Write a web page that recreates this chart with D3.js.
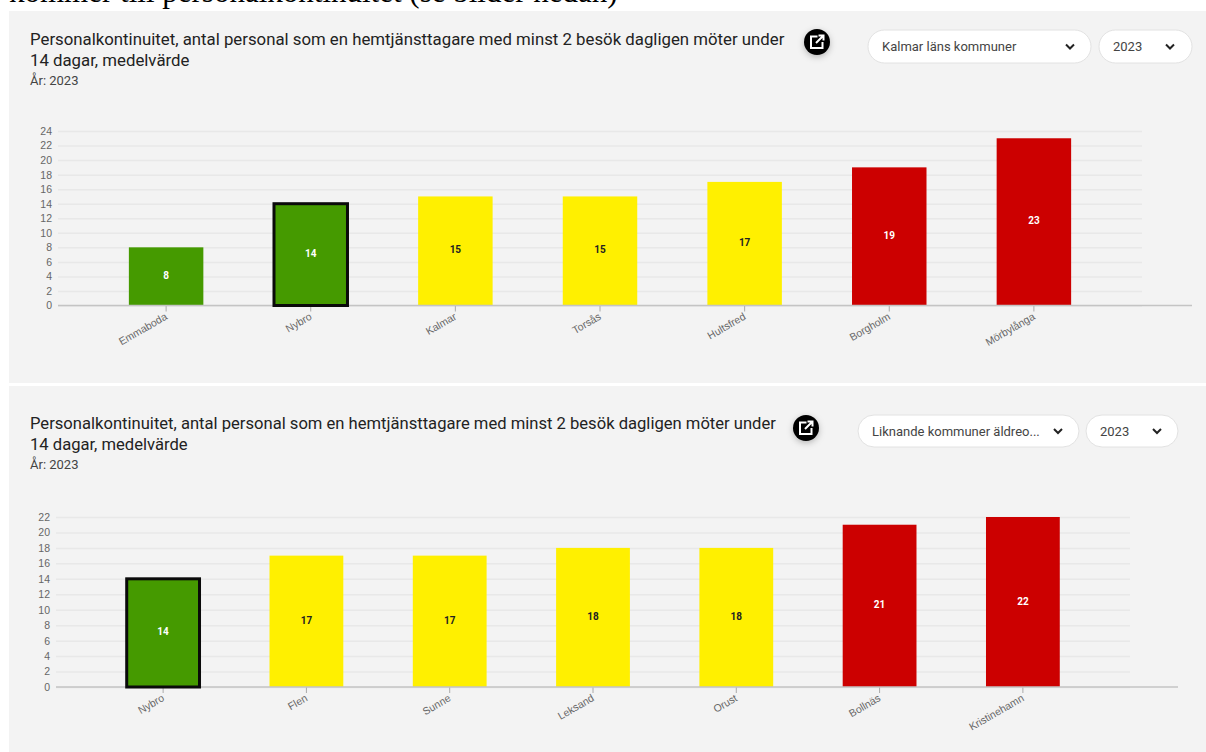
<!DOCTYPE html>
<html>
<head>
<meta charset="utf-8">
<script src="https://cdn.jsdelivr.net/npm/d3@7"></script>
<style>
  html, body { margin: 0; padding: 0; background: #fff; overflow: hidden; }
  text { font-family: Roboto, sans-serif; }
</style>
</head>
<body>
<script>
const WIDTH = 1206;
const HEIGHT = 752;

const GREEN = '#459a00';
const YELLOW = '#fff000';
const RED = '#cc0000';

const titleLines = [
  'Personalkontinuitet, antal personal som en hemtjänsttagare med minst 2 besök dagligen möter under',
  '14 dagar, medelvärde'
];

// Kalmar läns kommuner
const categories1 = ['Emmaboda', 'Nybro', 'Kalmar', 'Torsås', 'Hultsfred', 'Borgholm', 'Mörbylånga'];
const values1 = [8, 14, 15, 15, 17, 19, 23];
const colors1 = [GREEN, GREEN, YELLOW, YELLOW, YELLOW, RED, RED];
const ticks1 = [0, 2, 4, 6, 8, 10, 12, 14, 16, 18, 20, 22, 24];

// Liknande kommuner
const categories2 = ['Nybro', 'Flen', 'Sunne', 'Leksand', 'Orust', 'Bollnäs', 'Kristinehamn'];
const values2 = [14, 17, 17, 18, 18, 21, 22];
const colors2 = [GREEN, YELLOW, YELLOW, YELLOW, YELLOW, RED, RED];
const ticks2 = [0, 2, 4, 6, 8, 10, 12, 14, 16, 18, 20, 22];

const svg = d3.select('body').append('svg')
  .attr('width', WIDTH)
  .attr('height', HEIGHT)
  .style('display', 'block');

const defs = svg.append('defs');
defs.append('filter').attr('id', 'shadow')
  .attr('x', '-50%').attr('y', '-50%').attr('width', '200%').attr('height', '200%')
  .append('feDropShadow')
  .attr('dx', 0).attr('dy', 2).attr('stdDeviation', 3)
  .attr('flood-color', '#000').attr('flood-opacity', 0.25);

// rad fran texten ovanfor, avklippt i originalet
svg.append('text')
  .attr('x', 9)
  .attr('y', 2)
  .style('font-family', '"Liberation Serif", serif')
  .attr('font-size', 31)
  .attr('fill', '#000')
  .text('kommer till personalkontinuitet (se bilder nedan)');

function select(g, x, y, w, h, label, arrowX) {
  const s = g.append('g');
  s.append('rect')
    .attr('x', x).attr('y', y).attr('width', w).attr('height', h)
    .attr('rx', h / 2)
    .attr('fill', '#fff')
    .attr('stroke', '#e2e2e2');
  s.append('text')
    .attr('x', x + 14).attr('y', y + h / 2 + 4.5)
    .attr('font-size', 13)
    .attr('fill', '#444')
    .text(label);
  s.append('path')
    .attr('d', `M${arrowX - 4},${y + h / 2 - 2} L${arrowX},${y + h / 2 + 2} L${arrowX + 4},${y + h / 2 - 2}`)
    .attr('fill', 'none')
    .attr('stroke', '#222')
    .attr('stroke-width', 2);
}

function panel(cfg) {
  const g = svg.append('g');

  g.append('rect')
    .attr('x', 9).attr('y', cfg.top)
    .attr('width', WIDTH - 9).attr('height', cfg.panelHeight)
    .attr('fill', '#f3f3f3');

  titleLines.forEach((line, i) => {
    g.append('text')
      .attr('x', cfg.titleX)
      .attr('y', cfg.titleY + i * 20.5)
      .attr('font-size', cfg.titleSize)
      .attr('fill', '#222')
      .text(line);
  });
  g.append('text')
    .attr('x', cfg.titleX)
    .attr('y', cfg.titleY + 40)
    .attr('font-size', 13)
    .attr('fill', '#444')
    .text('År: 2023');

  // knappen med extern lank
  const ix = cfg.iconX, iy = cfg.iconY;
  g.append('circle')
    .attr('cx', ix).attr('cy', iy).attr('r', 13)
    .attr('fill', '#000')
    .attr('filter', 'url(#shadow)');
  g.append('path')
    .attr('d', `M${ix + 0.5},${iy - 5.5} H${ix - 6} V${iy + 6} H${ix + 5.5} V${iy}`)
    .attr('fill', 'none').attr('stroke', '#fff').attr('stroke-width', 2);
  g.append('path')
    .attr('d', `M${ix - 1},${iy + 1} L${ix + 5.5},${iy - 5.5} M${ix + 1.5},${iy - 6.5} H${ix + 6.5} V${iy - 1.5}`)
    .attr('fill', 'none').attr('stroke', '#fff').attr('stroke-width', 2);

  select(g, cfg.sel1[0], cfg.sel1[1], cfg.sel1[2], cfg.sel1[3], cfg.selLabel, cfg.sel1[4]);
  select(g, cfg.sel2[0], cfg.sel2[1], cfg.sel2[2], cfg.sel2[3], '2023', cfg.sel2[4]);

  const x = d3.scaleBand()
    .domain(cfg.categories)
    .range([cfg.left, cfg.right])
    .paddingInner(0.485)
    .paddingOuter(0.49);

  const y = d3.scaleLinear()
    .domain([0, d3.max(cfg.ticks)])
    .range([cfg.bottom, cfg.yTop]);

  // rutnat och y-axel
  const axisY = d3.axisLeft(y)
    .tickValues(cfg.ticks)
    .tickSize(-(cfg.right - cfg.left))
    .tickPadding(6);
  const gy = g.append('g')
    .attr('transform', `translate(${cfg.left},0)`)
    .call(axisY);
  gy.select('.domain').remove();
  gy.selectAll('line').attr('stroke', '#e8e8e8').attr('stroke-width', 1.5);
  gy.selectAll('text')
    .attr('font-size', 10.5)
    .style('font-family', '"Liberation Sans", sans-serif')
    .attr('fill', '#666');

  // staplar
  g.append('g').selectAll('rect')
    .data(cfg.categories)
    .enter()
    .append('rect')
    .attr('x', d => x(d))
    .attr('width', x.bandwidth())
    .attr('y', (d, i) => y(cfg.values[i]))
    .attr('height', (d, i) => cfg.bottom - y(cfg.values[i]))
    .attr('fill', (d, i) => cfg.colors[i]);

  // x-axel
  const axisX = d3.axisBottom(x).tickSize(6).tickSizeOuter(0);
  const gx = g.append('g')
    .attr('transform', `translate(0,${cfg.bottom})`)
    .call(axisX);
  gx.select('.domain').remove();
  gx.append('line')
    .attr('x1', cfg.left).attr('x2', cfg.axisEnd)
    .attr('stroke', '#c4c4c4').attr('stroke-width', 1.5);
  gx.selectAll('.tick line').attr('stroke', '#aaa');
  gx.selectAll('.tick text')
    .attr('font-size', 10.5)
    .style('font-family', '"Liberation Sans", sans-serif')
    .attr('fill', '#666')
    .attr('text-anchor', 'end')
    .attr('y', 0)
    .attr('dy', '0.35em')
    .attr('transform', 'translate(0,10) rotate(-30)');

  // markerad kommun
  g.append('rect')
    .attr('x', x('Nybro') + 0.5)
    .attr('width', x.bandwidth() - 1)
    .attr('y', y(14))
    .attr('height', cfg.bottom - y(14))
    .attr('fill', 'none')
    .attr('stroke', '#0a0a0a')
    .attr('stroke-width', 3);

  // varden i staplarna
  g.append('g').selectAll('text')
    .data(cfg.categories)
    .enter()
    .append('text')
    .attr('x', d => x(d) + x.bandwidth() / 2)
    .attr('y', (d, i) => (y(cfg.values[i]) + cfg.bottom) / 2 + 2.5)
    .attr('text-anchor', 'middle')
    .attr('font-size', 10)
    .attr('font-weight', 'bold')
    .attr('fill', (d, i) => cfg.colors[i] === YELLOW ? '#222' : '#fff')
    .text((d, i) => cfg.values[i]);
}

panel({
  top: 11, panelHeight: 372,
  titleX: 30, titleY: 45, titleSize: 16.8,
  iconX: 817, iconY: 42,
  sel1: [868, 30, 223, 33, 1070], sel2: [1099, 30, 93, 33, 1170],
  selLabel: 'Kalmar läns kommuner',
  categories: categories1, values: values1, colors: colors1, ticks: ticks1,
  left: 58, right: 1142, axisEnd: 1192, yTop: 131, bottom: 305.5
});

panel({
  top: 386, panelHeight: 366,
  titleX: 30, titleY: 429, titleSize: 16.6,
  iconX: 806, iconY: 428,
  sel1: [858, 415, 221, 32, 1058], sel2: [1086, 415, 92, 32, 1157],
  selLabel: 'Liknande kommuner äldreo...',
  categories: categories2, values: values2, colors: colors2, ticks: ticks2,
  left: 56, right: 1130, axisEnd: 1178, yTop: 517, bottom: 687
});
</script>
</body>
</html>
